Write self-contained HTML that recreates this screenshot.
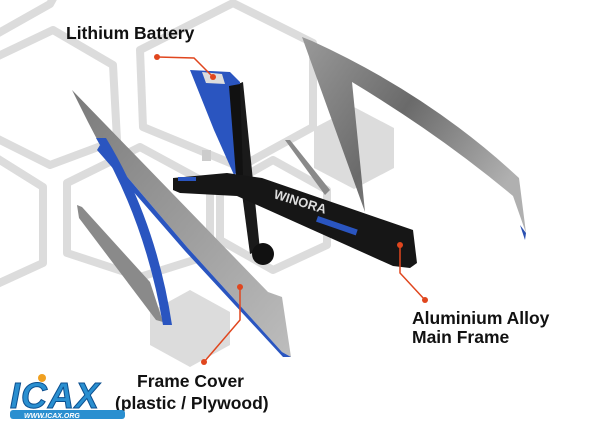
<!DOCTYPE html>
<html><head><meta charset="utf-8"><style>
body{margin:0;background:#fff;width:600px;height:429px;overflow:hidden}
svg{display:block}
text{font-family:"Liberation Sans",sans-serif;font-weight:bold}
</style></head><body>
<svg width="600" height="429" viewBox="0 0 600 429">
<defs>
<linearGradient id="g1" x1="0" y1="0" x2="1" y2="0.6"><stop offset="0" stop-color="#9a9a9a"/><stop offset="0.5" stop-color="#6a6a6a"/><stop offset="1" stop-color="#b0b0b0"/></linearGradient>
<linearGradient id="g2" x1="0" y1="0" x2="1" y2="1"><stop offset="0" stop-color="#7a7a7a"/><stop offset="1" stop-color="#bdbdbd"/></linearGradient>
</defs>
<g fill="none" stroke="#dcdcdc" stroke-width="8" stroke-linejoin="round">
<polyline points="-5,35 50,4 55,-5"/>
<polygon points="53,30 113,65 117,140 50,165 -10,135 -10,60"/>
<polygon points="233,3 313,43 313,127 240,167 143,127 140,50"/>
<polygon points="140,147 210,185 210,255 140,277 67,253 67,183"/>
<polygon points="-5,157 43,187 43,263 -5,285"/>
<polygon points="273,160 327,190 327,245 273,270 220,240 220,190"/>
</g>
<polygon points="354,107 394,128 394,168 354,189 314,168 314,128" fill="#dcdcdc"/>
<polygon points="190,290 230,312 230,345 190,367 150,345 150,312" fill="#dcdcdc"/>
<!-- right cover -->
<path d="M302,37 L312,41 Q430,95 519,178 L526,233 L513,196 Q440,135 352,82 L365,212 Z" fill="url(#g1)"/>
<polygon points="285,140 290,140 330,190 325,195" fill="#8a8a8a"/>
<polygon points="520,225 526,233 525,240" fill="#2a4fb0"/>
<!-- left cover -->
<polygon points="77,205 82,207 150,282 163,322 156,320 79,218" fill="#8a8a8a"/>
<polygon points="72,90 268,292 282,297 291,357 282,352 187,247 100,145 88,122" fill="url(#g2)"/>
<polygon points="100,145 187,247 282,352 291,357 283,357 185,251 97,150" fill="#2a55c0"/>
<path d="M96,138 Q145,220 163,325 L172,325 Q156,220 106,138 Z" fill="#2a55c0"/>
<!-- seat tube black -->
<polygon points="228,88 243,82 260,250 250,254" fill="#1a1a1a"/>
<circle cx="263" cy="254" r="11" fill="#111"/>
<!-- battery -->
<polygon points="190,70 230,72 240,82 240,170 234,175 214,130" fill="#2a55c0"/>
<polygon points="202,72 222,74 225,84 206,83" fill="#ddd"/>
<polygon points="229,86 240,84 243,175 236,176" fill="#111"/>
<rect x="202" y="150" width="9" height="11" fill="#ccc"/>
<!-- main frame -->
<polygon points="173,178 227,173 262,178 413,230 417,263 410,268 393,266 237,196 180,193 173,190" fill="#161616"/>
<rect x="178" y="177" width="18" height="4" fill="#2a55c0"/>
<text x="273" y="198" font-size="13" fill="#ddd" transform="rotate(17 273 198)">WINORA</text>
<rect x="318" y="216" width="42" height="6" fill="#2a55c0" transform="rotate(19 318 216)"/>
<!-- leaders -->
<g stroke="#e0461e" stroke-width="1.5" fill="none">
<polyline points="157,57 194,58 213,77"/>
<polyline points="400,245 400,273 425,300"/>
<polyline points="204,362 240,320 240,287"/>
</g>
<g fill="#e0461e">
<circle cx="157" cy="57" r="3"/><circle cx="213" cy="77" r="3"/>
<circle cx="400" cy="245" r="3"/><circle cx="425" cy="300" r="3"/>
<circle cx="204" cy="362" r="3"/><circle cx="240" cy="287" r="3"/>
</g>
<g fill="#111" font-size="17.5">
<text x="66" y="39">Lithium Battery</text>
<text x="412" y="324">Aluminium Alloy</text>
<text x="412" y="343">Main Frame</text>
<text x="137" y="387">Frame Cover</text>
<text x="115" y="409">(plastic / Plywood)</text>
</g>
<!-- logo -->
<text x="10" y="408" font-size="36" font-style="italic" fill="#2a8fd0" stroke="#0c4f8f" stroke-width="1" letter-spacing="1">ICAX</text>
<circle cx="42" cy="378" r="4" fill="#f0a020"/>
<rect x="10" y="410" width="115" height="9" rx="3" fill="#2a8fd0"/>
<text x="24" y="418" font-size="7" fill="#fff" font-style="italic">WWW.ICAX.ORG</text>
</svg>
</body></html>
